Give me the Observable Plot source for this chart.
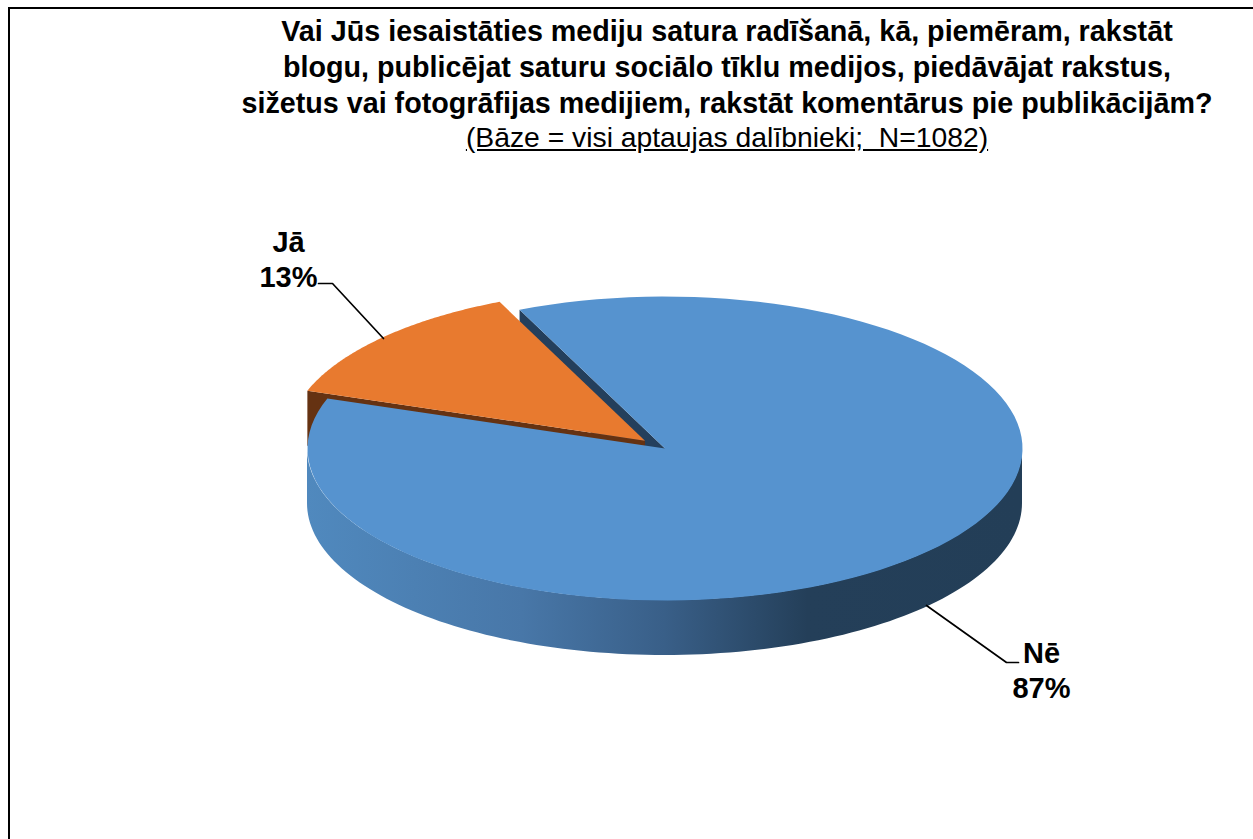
<!DOCTYPE html>
<html lang="lv">
<head>
<meta charset="utf-8">
<title>Mediju satura radīšana</title>
<script src="https://cdn.jsdelivr.net/npm/d3@7"></script>
<script src="https://cdn.jsdelivr.net/npm/@observablehq/plot@0.6"></script>
<style>
html,body{margin:0;padding:0;background:#fff;}
body{width:1253px;height:839px;overflow:hidden;position:relative;font-family:"Liberation Sans",Arial,sans-serif;color:#000;}
#frame{position:absolute;left:8px;top:7px;width:1243px;height:840px;border-left:2px solid #000;border-top:2px solid #000;border-right:1px solid #999;pointer-events:none;}
#head{position:absolute;left:227px;top:13px;width:1000px;text-align:center;}
#head h1{margin:0;font-size:28.7px;line-height:36px;font-weight:700;white-space:nowrap;}
#head p{margin:0;font-size:28.3px;line-height:33px;text-decoration:underline;white-space:pre;}
#chart{position:absolute;left:0;top:155px;}
</style>
</head>
<body>
<div id="frame"></div>
<div id="head">
<h1 id="t"></h1>
<p id="s"></p>
</div>
<div id="chart"></div>
<script>
const titleLines = [
  "Vai Jūs iesaistāties mediju satura radīšanā, kā, piemēram, rakstāt",
  "blogu, publicējat saturu sociālo tīklu medijos, piedāvājat rakstus,",
  "sižetus vai fotogrāfijas medijiem, rakstāt komentārus pie publikācijām?"
];
const subtitle = "(Bāze = visi aptaujas dalībnieki;  N=1082)";
const categories = ["Nē", "Jā"];
const shares = [87, 13];
const sliceColors = ["#5693cf", "#e87a2f"];
const innerWallColors = ["#243f5c", "#653212"];
const wallStops = [[0, "#5089be"], [0.3, "#4877a8"], [0.5, "#395f88"], [0.7, "#243f59"], [1, "#233e57"]];

// Pie geometry, in units of the pie's horizontal radius
const tilt = 0.425, depth = 0.154, firstAngle = -24;
const explode = {x: -0.056, y: 0.022};      // the "Jā" slice is pulled out
const pxW = 1253, pxH = 684, pxPerUnit = 357.5, cxPx = 664.5, cyPx = 293;

const rad = a => (a - 90) * Math.PI / 180;            // clockwise degrees from 12 o'clock
const rim = (a, dx = 0, dy = 0) => ({x: Math.cos(rad(a)) + dx, y: -Math.sin(rad(a)) * tilt + dy});
const steps = (a0, a1) => d3.range(0, 121).map(i => a0 + (a1 - a0) * i / 120);

// Angles come straight from the shares
const a0 = firstAngle, a1 = a0 + shares[0] * 3.6, a2 = a1 + shares[1] * 3.6;

const wedge = (from, to, dx, dy) => [{x: dx, y: dy}, ...steps(from, to).map(a => rim(a, dx, dy)), {x: dx, y: dy}];

const neTop = wedge(a0, a1, 0, 0);
const jaTop = wedge(a1, a2, explode.x, explode.y);

// Outer wall of "Nē": only the front half of the rim is visible
const neWall = steps(90, 270).map(a => { const p = rim(a); return {x: p.x, y1: p.y, y2: p.y - depth}; });

// Flat cut faces
const face = (p, q) => [p, q, {x: q.x, y: q.y - depth}, {x: p.x, y: p.y - depth}, p];
const neCut = face(rim(a0), {x: 0, y: 0});
const jaCut = face(rim(a1, explode.x, explode.y), {x: explode.x, y: explode.y});

const gradient = () => {
  const defs = d3.create("svg:defs");
  const g = defs.append("linearGradient").attr("id", "wall");
  wallStops.forEach(([o, c]) => g.append("stop").attr("offset", o).attr("stop-color", c));
  return defs.node();
};

// Leader lines and labels, placed in pie units
const u = (px, py) => ({x: (px - cxPx) / pxPerUnit, y: (cyPx - py) / pxPerUnit});
const leaders = [
  [u(318, 128), u(332, 128), u(383, 183)],
  [u(926, 450), u(1006, 507), u(1018, 507)]
];
const labels = [
  {...u(1041, 514), text: `${categories[0]}\n${shares[0]}%`},
  {...u(288, 103), text: `${categories[1]}\n${shares[1]}%`}
];

const poly = (data, fill) => Plot.line(data, {x: "x", y: "y", fill, stroke: "none", curve: "linear"});

const chart = Plot.plot({
  width: pxW, height: pxH,
  margin: 0,
  style: {background: "transparent", overflow: "visible"},
  x: {domain: [-cxPx / pxPerUnit, (pxW - cxPx) / pxPerUnit], range: [0, pxW], axis: null},
  y: {domain: [(cyPx - pxH) / pxPerUnit, cyPx / pxPerUnit], range: [pxH, 0], axis: null},
  marks: [
    gradient,
    Plot.areaY(neWall, {x: "x", y1: "y1", y2: "y2", fill: "url(#wall)", curve: "linear"}),
    poly(neCut, innerWallColors[0]),
    poly(jaCut, innerWallColors[1]),
    poly(jaTop, sliceColors[1]),
    poly(neTop, sliceColors[0]),
    ...leaders.map(l => Plot.line(l, {x: "x", y: "y", stroke: "#000", strokeWidth: 1.7, curve: "linear"})),
    Plot.text(labels, {x: "x", y: "y", text: "text", fontSize: 29, fontWeight: 700, fill: "#000", lineHeight: 1.18, fontFamily: "Liberation Sans, Arial, sans-serif"})
  ]
});
document.getElementById("chart").append(chart);
document.getElementById("t").innerHTML = titleLines.join("<br>");
document.getElementById("s").textContent = subtitle;
</script>
</body>
</html>
